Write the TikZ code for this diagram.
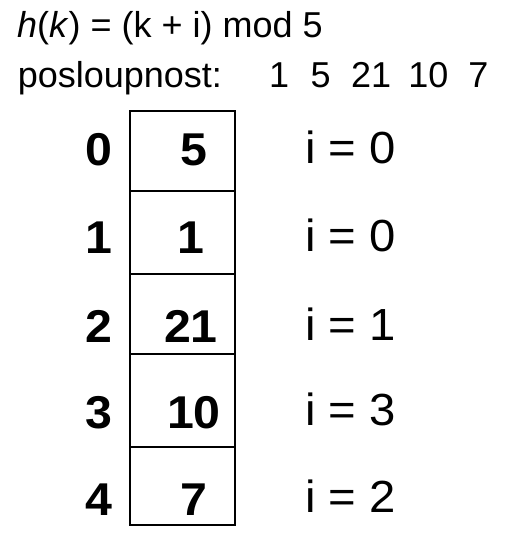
\documentclass[tikz,border=0pt]{standalone}
\usepackage{fontspec}
\setmainfont{Liberation Sans}
\begin{document}
\begin{tikzpicture}[x=1pt,y=-1pt,
  cellbox/.style={draw, line width=2pt, minimum width=105pt, inner sep=0pt},
  idx/.style={font=\fontsize{46}{46}\selectfont\bfseries, anchor=base, inner sep=0pt, xscale=1.05},
  ilab/.style={font=\fontsize{45}{45}\selectfont, anchor=base west, inner sep=0pt, xscale=1.05},
  head/.style={anchor=base west, inner sep=0pt, font=\fontsize{36}{36}\selectfont}
]
\useasboundingbox (0,0) rectangle (521,554);
\fill[white] (0,0) rectangle (521,554);

\node[head] (hdr) at (17,37) {\textit{h}(\textit{k}) = (k + i) mod 5};
\node[head] (seq) at (17.6,87) {posloupnost:\hspace{47.3pt}1\hspace{21.5pt}5\hspace{20.5pt}21\hspace{17pt}10\hspace{20pt}7};

\node[cellbox, minimum height=80pt] (c0) at (182.5,151) {};
\node[cellbox, minimum height=83pt] (c1) at (182.5,232.5) {};
\node[cellbox, minimum height=80pt] (c2) at (182.5,314) {};
\node[cellbox, minimum height=93pt] (c3) at (182.5,400.5) {};
\node[cellbox, minimum height=78pt] (c4) at (182.5,486) {};

\node[idx] (i0) at (99,165) {0};
\node[idx] (i1) at (99,253) {1};
\node[idx] (i2) at (99,342) {2};
\node[idx] (i3) at (99,428) {3};
\node[idx] (i4) at (99,515) {4};

\node[idx] (v0) at (193.5,165) {5};
\node[idx] (v1) at (191,253) {1};
\node[idx] (v2) at (191,342) {21};
\node[idx] (v3) at (194,428) {10};
\node[idx] (v4) at (193.5,515) {7};

\node[ilab] (l0) at (305,163) {i = 0};
\node[ilab] (l1) at (305,251) {i = 0};
\node[ilab] (l2) at (305,340) {i = 1};
\node[ilab] (l3) at (305,425) {i = 3};
\node[ilab] (l4) at (305,512) {i = 2};
\end{tikzpicture}
\end{document}
